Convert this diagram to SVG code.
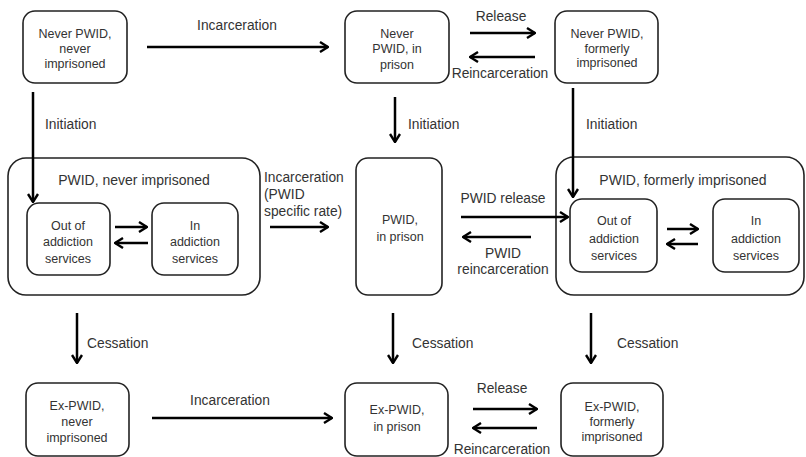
<svg xmlns="http://www.w3.org/2000/svg" width="806" height="457" viewBox="0 0 806 457">
<defs>
<marker id="ah" viewBox="0 0 10 12" refX="9" refY="6" markerWidth="10" markerHeight="12" markerUnits="userSpaceOnUse" orient="auto">
<path d="M1,1 L9,6 L1,11" fill="none" stroke="#000" stroke-width="2.4"/>
</marker>
<style>
.box{fill:#fff;stroke:#222;stroke-width:1.6}
.t{font-family:"Liberation Sans",Arial,sans-serif;font-size:12.5px;fill:#333;text-anchor:middle}
.ct{font-size:14px}
.l{font-family:"Liberation Sans",Arial,sans-serif;font-size:13.8px;fill:#333}
.c{text-anchor:middle}
.a{stroke:#000;stroke-width:2.5;fill:none;marker-end:url(#ah)}
</style>
</defs>
<rect width="806" height="457" fill="#fff"/>

<g id="containers">
<g id="pwid-never"><rect class="box" x="8" y="158" width="252" height="137" rx="18"/><text class="t ct" x="134" y="185">PWID, never imprisoned</text></g>
<g id="pwid-formerly"><rect class="box" x="556" y="157" width="248" height="138" rx="18"/><text class="t ct" x="683" y="185">PWID, formerly imprisoned</text></g>
</g>

<g id="n1"><rect class="box" x="23" y="11" width="104" height="72" rx="12"/><text class="t" x="75" y="38">Never PWID,</text><text class="t" x="75" y="53">never</text><text class="t" x="75" y="68">imprisoned</text></g>
<g id="n2"><rect class="box" x="345" y="11" width="104" height="72" rx="12"/><text class="t" x="397" y="38">Never</text><text class="t" x="397" y="53">PWID, in</text><text class="t" x="397" y="69">prison</text></g>
<g id="n3"><rect class="box" x="555" y="11" width="103" height="72" rx="12"/><text class="t" x="607" y="38">Never PWID,</text><text class="t" x="607" y="53">formerly</text><text class="t" x="607" y="67">imprisoned</text></g>

<g id="p1o"><rect class="box" x="27" y="203" width="83" height="72" rx="12"/><text class="t" x="68" y="230">Out of</text><text class="t" x="68" y="246">addiction</text><text class="t" x="68" y="263">services</text></g>
<g id="p1i"><rect class="box" x="152" y="203" width="86" height="72" rx="12"/><text class="t" x="195" y="230">In</text><text class="t" x="195" y="246">addiction</text><text class="t" x="195" y="263">services</text></g>
<g id="p2"><rect class="box" x="356" y="158" width="86" height="137" rx="12"/><text class="t" x="400" y="224">PWID,</text><text class="t" x="400" y="241">in prison</text></g>
<g id="p3o"><rect class="box" x="570" y="199" width="87" height="73" rx="12"/><text class="t" x="614" y="225">Out of</text><text class="t" x="614" y="243">addiction</text><text class="t" x="614" y="260">services</text></g>
<g id="p3i"><rect class="box" x="713" y="199" width="86" height="73" rx="12"/><text class="t" x="756" y="225">In</text><text class="t" x="756" y="243">addiction</text><text class="t" x="756" y="260">services</text></g>

<g id="e1"><rect class="box" x="26" y="383" width="103" height="73" rx="12"/><text class="t" x="77" y="410">Ex-PWID,</text><text class="t" x="77" y="426">never</text><text class="t" x="77" y="442">imprisoned</text></g>
<g id="e2"><rect class="box" x="345" y="383" width="103" height="73" rx="12"/><text class="t" x="397" y="414">Ex-PWID,</text><text class="t" x="397" y="431">in prison</text></g>
<g id="e3"><rect class="box" x="561" y="383" width="102" height="73" rx="12"/><text class="t" x="612" y="411">Ex-PWID,</text><text class="t" x="612" y="426">formerly</text><text class="t" x="612" y="441">imprisoned</text></g>

<g id="connectors">
<line class="a" x1="147" y1="47" x2="328" y2="47"/>
<line class="a" x1="470" y1="33" x2="535" y2="33"/>
<line class="a" x1="535" y1="57" x2="470" y2="57"/>
<line class="a" x1="33" y1="92" x2="33" y2="202"/>
<line class="a" x1="395" y1="97" x2="395" y2="142"/>
<line class="a" x1="573" y1="88" x2="573" y2="197"/>
<line class="a" x1="115" y1="227" x2="147" y2="227"/>
<line class="a" x1="148" y1="243" x2="115" y2="243"/>
<line class="a" x1="270" y1="227" x2="328" y2="227"/>
<line class="a" x1="461" y1="217" x2="568" y2="217"/>
<line class="a" x1="531" y1="237" x2="463" y2="237"/>
<line class="a" x1="667" y1="229" x2="698" y2="229"/>
<line class="a" x1="698" y1="244" x2="667" y2="244"/>
<line class="a" x1="77" y1="313" x2="77" y2="363"/>
<line class="a" x1="393" y1="313" x2="393" y2="363"/>
<line class="a" x1="591" y1="313" x2="591" y2="363"/>
<line class="a" x1="152" y1="418" x2="332" y2="418"/>
<line class="a" x1="473" y1="409" x2="537" y2="409"/>
<line class="a" x1="537" y1="428" x2="473" y2="428"/>
</g>

<g id="labels">
<text class="l c" x="237" y="30">Incarceration</text>
<text class="l c" x="501" y="21">Release</text>
<text class="l c" x="500" y="78">Reincarceration</text>
<text class="l" x="45" y="129">Initiation</text>
<text class="l" x="408" y="129">Initiation</text>
<text class="l" x="586" y="129">Initiation</text>
<text class="l" x="264" y="182">Incarceration</text>
<text class="l" x="264" y="199">(PWID</text>
<text class="l" x="264" y="216">specific rate)</text>
<text class="l c" x="503" y="203">PWID release</text>
<text class="l c" x="503" y="258">PWID</text>
<text class="l c" x="503" y="274">reincarceration</text>
<text class="l" x="87" y="348">Cessation</text>
<text class="l" x="412" y="348">Cessation</text>
<text class="l" x="617" y="348">Cessation</text>
<text class="l c" x="230" y="405">Incarceration</text>
<text class="l c" x="502" y="393">Release</text>
<text class="l c" x="502" y="454">Reincarceration</text>
</g>
</svg>
